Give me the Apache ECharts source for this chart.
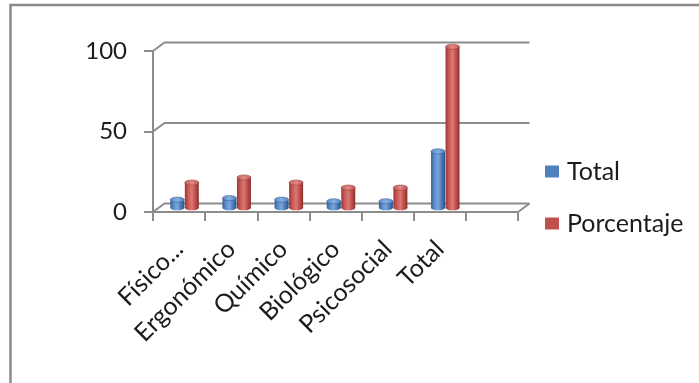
<!DOCTYPE html>
<html>
<head>
<meta charset="utf-8">
<script src="https://cdn.jsdelivr.net/npm/echarts@6/dist/echarts.min.js"></script>
<style>
  html, body { margin: 0; padding: 0; background: #fff; }
  #chart { width: 699px; height: 383px; }
</style>
</head>
<body>
<div id="chart"></div>
<script>
// Riesgos por tipo: cantidad y porcentaje
const categories = ['Físico...', 'Ergonómico', 'Químico', 'Biológico', 'Psicosocial', 'Total', ''];
const totalValues = [5, 6, 5, 4, 4, 35];
const porcentajeValues = [15.6, 18.8, 15.6, 12.5, 12.5, 100];
const yTicks = [0, 50, 100];
const seriesNames = ['Total', 'Porcentaje'];

// Perspective offset of the back wall relative to the front axes (pixels)
const DEPTH_DX = 11.5;
const DEPTH_DY = -8.5;
const LINE_GRAY = '#8c8c8c';
const FONT = 'Lato';
const TEXT_COLOR = '#1c1c1c';

const palettes = {
  blue: {
    base: '#4F81BD',
    body: ['#34609a', '#5e8fcc', '#79a6de', '#4a7cbb', '#2b528a'],
    cap: ['#5b89c4', '#86aee0', '#5680bd']
  },
  red: {
    base: '#C0504D',
    body: ['#9c3835', '#c95955', '#dc7875', '#bf4e4b', '#8a2f2c'],
    cap: ['#c75a57', '#e08a87', '#be5350']
  }
};

function hGradient(colors) {
  const n = colors.length - 1;
  return new echarts.graphic.LinearGradient(0, 0, 1, 0,
    colors.map((c, i) => ({ offset: i / n, color: c })));
}

// Back-wall gridlines with the short diagonal joining each front tick
function renderGridLevel(params, api) {
  const cs = params.coordSys;
  const y = api.coord([0, api.value(1)])[1];
  const x0 = cs.x;
  const x1 = cs.x + cs.width;
  const children = [{
    type: 'polyline',
    shape: { points: [[x0, y], [x0 + DEPTH_DX, y + DEPTH_DY], [x1 + DEPTH_DX, y + DEPTH_DY]] },
    style: { stroke: LINE_GRAY, lineWidth: 2, fill: null }
  }];
  if (api.value(1) === 0) {
    children.push({
      type: 'line',
      shape: { x1: x1, y1: y, x2: x1 + DEPTH_DX, y2: y + DEPTH_DY },
      style: { stroke: LINE_GRAY, lineWidth: 2 }
    });
  }
  return { type: 'group', children: children };
}

// Cylinder column placed at mid depth of the floor
function cylinderRenderer(shift, pal) {
  return function (params, api) {
    const idx = api.value(0);
    const val = api.value(1);
    const base = api.coord([idx, 0]);
    const top = api.coord([idx, val]);
    const cx = base[0] + DEPTH_DX / 2 + shift;
    const by = base[1] + DEPTH_DY / 2;
    const ty = top[1] + DEPTH_DY / 2;
    const rx = 7, ry = 2.6;
    return {
      type: 'group',
      children: [
        { type: 'ellipse', shape: { cx: cx, cy: by, rx: rx, ry: ry }, style: { fill: hGradient(pal.body) } },
        { type: 'rect', shape: { x: cx - rx, y: ty, width: rx * 2, height: by - ty }, style: { fill: hGradient(pal.body) } },
        { type: 'ellipse', shape: { cx: cx, cy: ty, rx: rx, ry: ry },
          style: { fill: hGradient(pal.cap), stroke: pal.body[4], lineWidth: 0.5 } }
      ]
    };
  };
}

const chart = echarts.init(document.getElementById('chart'), null, { renderer: 'canvas' });

chart.setOption({
  animation: false,
  backgroundColor: '#ffffff',
  textStyle: { fontFamily: FONT },
  graphic: [{
    type: 'polyline',
    shape: { points: [[10.5, 400], [10.5, 5], [720, 5]] },
    style: { stroke: '#8a8a8a', lineWidth: 2.5, fill: null },
    z: 10
  }],
  legend: {
    data: seriesNames,
    orient: 'vertical',
    left: 545,
    top: 159,
    padding: 0,
    itemGap: 27,
    itemWidth: 14,
    itemHeight: 12,
    icon: 'rect',
    textStyle: { fontSize: 25, color: TEXT_COLOR, fontFamily: FONT, padding: [0, 0, 0, 3] }
  },
  grid: { left: 153, top: 51, width: 365, height: 161 },
  xAxis: {
    type: 'category',
    data: categories,
    boundaryGap: true,
    axisLine: { lineStyle: { color: LINE_GRAY, width: 2 } },
    axisTick: { show: true, length: 9, lineStyle: { color: LINE_GRAY, width: 2 } },
    axisLabel: {
      rotate: 45, interval: 0, margin: 33,
      fontSize: 25, color: TEXT_COLOR, fontFamily: FONT
    },
    splitLine: { show: false }
  },
  yAxis: {
    type: 'value',
    min: 0, max: 100, interval: 50,
    axisLine: { show: true, lineStyle: { color: LINE_GRAY, width: 2 } },
    axisTick: { show: true, length: 9, lineStyle: { color: LINE_GRAY, width: 2 } },
    axisLabel: { margin: 26, fontSize: 24, color: TEXT_COLOR, fontFamily: FONT },
    splitLine: { show: false }
  },
  series: [
    {
      type: 'custom',
      name: 'walls',
      silent: true,
      z: 1,
      renderItem: renderGridLevel,
      data: yTicks.map(v => [0, v]),
      encode: { x: 0, y: 1 }
    },
    {
      type: 'custom',
      name: seriesNames[0],
      z: 3,
      itemStyle: { color: palettes.blue.base },
      renderItem: cylinderRenderer(-7.5, palettes.blue),
      data: totalValues.map((v, i) => [i, v]),
      encode: { x: 0, y: 1 }
    },
    {
      type: 'custom',
      name: seriesNames[1],
      z: 3,
      itemStyle: { color: palettes.red.base },
      renderItem: cylinderRenderer(7, palettes.red),
      data: porcentajeValues.map((v, i) => [i, v]),
      encode: { x: 0, y: 1 }
    }
  ]
});
</script>
</body>
</html>
